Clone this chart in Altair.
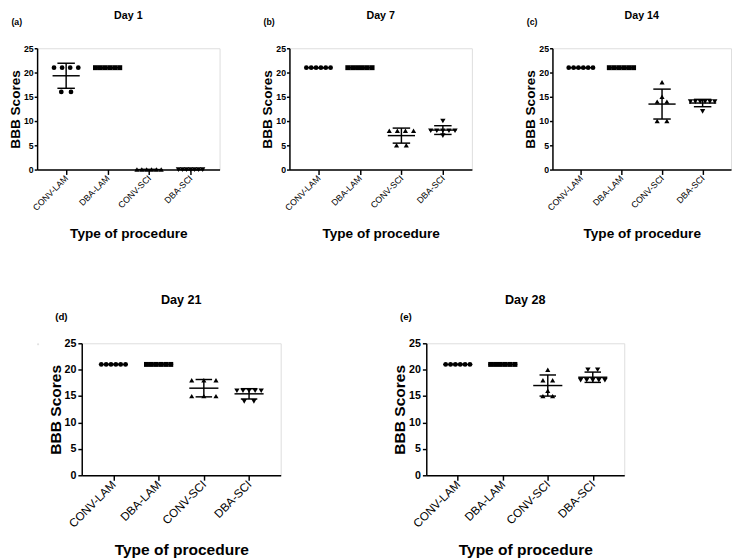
import json
import altair as alt
import numpy as np
import pandas as pd

# ---------------- data ----------------
categories = ["CONV-LAM", "DBA-LAM", "CONV-SCI", "DBA-SCI"]
days = ["Day 1", "Day 7", "Day 14", "Day 21", "Day 28"]
tags = ["(a)", "(b)", "(c)", "(d)", "(e)"]

conv_lam = [
    [21, 21, 21, 21, 16, 16],
    [21, 21, 21, 21, 21, 21],
    [21, 21, 21, 21, 21, 21],
    [21, 21, 21, 21, 21, 21],
    [21, 21, 21, 21, 21, 21],
]
dba_lam = [
    [21, 21, 21, 21, 21, 21],
    [21, 21, 21, 21, 21, 21],
    [21, 21, 21, 21, 21, 21],
    [21, 21, 21, 21, 21, 21],
    [21, 21, 21, 21, 21, 21],
]
conv_sci = [
    [0, 0, 0, 0, 0, 0],
    [8, 8, 8, 8, 5, 5],
    [18, 15, 14, 14, 10, 10],
    [18, 18, 18, 15, 15, 15],
    [20, 18, 18, 16, 15, 15],
]
dba_sci = [
    [0, 0, 0, 0, 0, 0, 0],
    [10, 8, 8, 8, 8, 8, 7],
    [14, 14, 14, 14, 14, 14, 12],
    [16, 16, 16, 16, 16, 14, 14],
    [20, 20, 18, 18, 18, 18, 18],
]
y_ticks = [0, 5, 10, 15, 20, 25]
x_title = "Type of procedure"
y_title = "BBB Scores"

# ---------------- styling ----------------
FONT = "Liberation Sans"
shapes = ["circle", "square", "triangle-up", "triangle-down"]
sizes = [24, 30, 30, 30]
X_PAD = 0.7  # outer padding in category steps


def spread_px(k):
    if k == 1:
        return 0.0
    if k == 2:
        return 10.0
    return 25.0


def panel(i, W, H, fs):
    step = W / (3 + 2 * X_PAD)
    groups = [conv_lam[i], dba_lam[i], conv_sci[i], dba_sci[i]]
    rows, summ = [], []
    for g, vals in enumerate(groups):
        uniq = []
        for v in vals:
            if v not in uniq:
                uniq.append(v)
        for u in uniq:
            k = vals.count(u)
            span = spread_px(k)
            offs = np.linspace(-span / 2, span / 2, k) if k > 1 else [0.0]
            for o in offs:
                rows.append(dict(cat=categories[g], xpos=g + o / step, value=u))
        arr = np.array(vals, float)
        m = arr.mean()
        s = arr.std(ddof=1)
        summ.append(dict(
            cat=categories[g], xc=g,
            xm0=g - fs["mean_half"] / step, xm1=g + fs["mean_half"] / step,
            xc0=g - fs["cap_half"] / step, xc1=g + fs["cap_half"] / step,
            mean=m, lo=m - s, hi=m + s,
        ))
    pts_df = pd.DataFrame(rows)
    sum_df = pd.DataFrame(summ)

    label_expr = json.dumps(categories) + "[datum.value]"
    xscale = alt.Scale(domain=[-X_PAD, 3 + X_PAD], nice=False, zero=False)
    yscale = alt.Scale(domain=[0, 25], nice=False)

    xaxis = alt.Axis(
        values=[0, 1, 2, 3], labelExpr=label_expr, labelAngle=-45,
        labelAlign="right", labelBaseline="middle", labelFont=FONT,
        labelFontSize=fs["xl"], labelColor="black", labelPadding=2,
        labelOverlap=False, labelFlush=False,
        tickSize=5, tickColor="black", tickWidth=1.5,
        domainColor="black", domainWidth=1.5, grid=False,
        title=x_title, titleFont=FONT, titleFontSize=fs["xt"],
        titleFontWeight="bold", titleColor="black", titlePadding=fs["xtp"],
    )
    yaxis = alt.Axis(
        values=y_ticks, format="d", labelFont=FONT, labelFontSize=fs["yl"],
        labelFontWeight="bold", labelColor="black", labelPadding=fs["ylp"],
        labelOverlap=False, labelFlush=False, tickCount=len(y_ticks),
        tickSize=fs["yts"], tickColor="black", tickWidth=1.5,
        domainColor="black", domainWidth=1.5, grid=False,
        title=y_title, titleFont=FONT, titleFontSize=fs["yt"],
        titleFontWeight="bold", titleColor="black", titlePadding=1,
    )

    def X(f):
        return alt.X(f, scale=xscale, axis=xaxis)

    def Y(f):
        return alt.Y(f, scale=yscale, axis=yaxis)

    pts = alt.Chart(pts_df).mark_point(filled=True, opacity=1, color="black", strokeWidth=0).encode(
        x=X("xpos:Q"),
        y=Y("value:Q"),
        shape=alt.Shape("cat:N", scale=alt.Scale(domain=categories, range=shapes), legend=None),
        size=alt.Size("cat:N", scale=alt.Scale(domain=categories, range=sizes), legend=None),
    )
    base = alt.Chart(sum_df)
    rule_kw = dict(color="black", strokeWidth=1.5)
    mean_line = base.mark_rule(**rule_kw).encode(x=X("xm0:Q"), x2="xm1:Q", y=Y("mean:Q"))
    cap_hi = base.mark_rule(**rule_kw).encode(x=X("xc0:Q"), x2="xc1:Q", y=Y("hi:Q"))
    cap_lo = base.mark_rule(**rule_kw).encode(x=X("xc0:Q"), x2="xc1:Q", y=Y("lo:Q"))
    vert = base.mark_rule(**rule_kw).encode(x=X("xc:Q"), y=Y("lo:Q"), y2="hi:Q")

    txt = pd.DataFrame({"t": [tags[i]], "d": [days[i]]})
    tag = alt.Chart(txt).mark_text(font=FONT, fontSize=fs["tag"], fontWeight="bold", color="black").encode(
        text="t:N", x=alt.value(-21), y=alt.value(-27))
    ttl = alt.Chart(txt).mark_text(font=FONT, fontSize=fs["title"], fontWeight="bold", color="black").encode(
        text="d:N", x=alt.value(W / 2), y=alt.value(fs["title_y"]))

    return alt.layer(pts, mean_line, cap_hi, cap_lo, vert, tag, ttl).properties(width=W, height=H)


top_fs = dict(xl=9, xt=14, xtp=15, yl=9, ylp=1, yts=3, yt=14, tag=9, title=11, title_y=-33,
              mean_half=14, cap_half=9)
bot_fs = dict(xl=12, xt=16, xtp=13, yl=11, ylp=2, yts=4, yt=16, tag=10, title=13, title_y=-45,
              mean_half=15, cap_half=8.5)

pa = panel(0, 188, 125, top_fs)
pb = panel(1, 188, 125, top_fs)
pc = panel(2, 184, 125, top_fs)
pd_ = panel(3, 205, 136, bot_fs)
pe = panel(4, 204, 136, bot_fs)

spacer = alt.Chart(pd.DataFrame({"a": [0]})).mark_point(opacity=0, size=1).encode(
    x=alt.X("a:Q", axis=None), y=alt.Y("a:Q", axis=None)).properties(width=1, height=1)

top = alt.hconcat(alt.hconcat(pa, pb, spacing=41), pc, spacing=52)
bottom = alt.hconcat(alt.hconcat(spacer, pd_, spacing=8), pe, spacing=113)

chart = alt.vconcat(top, bottom, spacing=53).properties(
    padding={"left": 0, "top": -7, "right": 0, "bottom": 0}
).configure_view(stroke=None).configure(font=FONT, background="white")

chart.save("out.html", embed_options={"renderer": "svg", "actions": False})
